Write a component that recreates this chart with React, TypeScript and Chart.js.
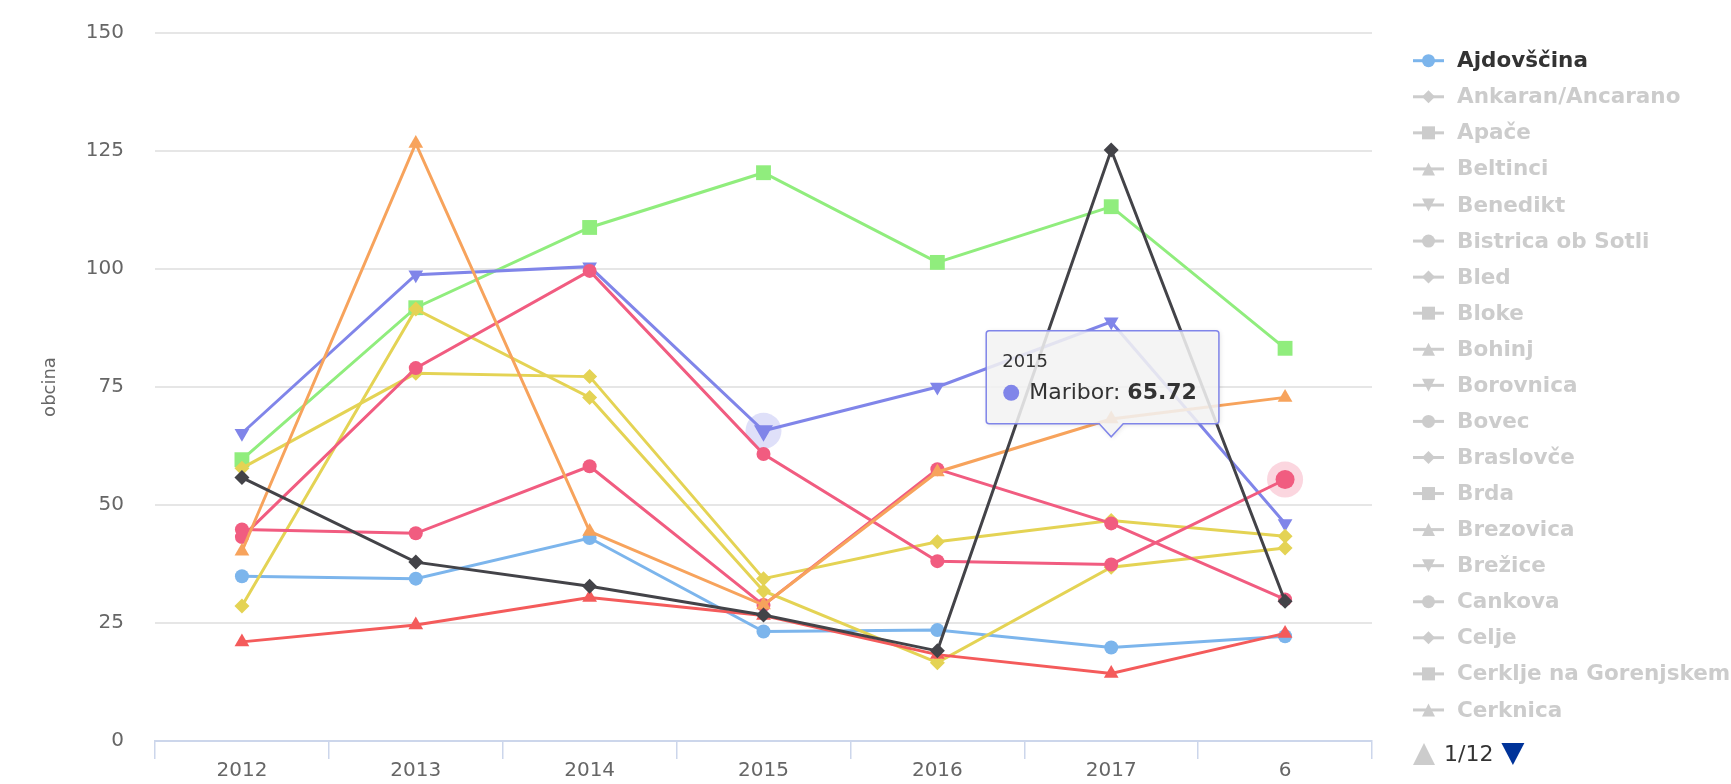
import React, { useEffect, useRef } from "react";
import { Chart, registerables } from "chart.js";

Chart.register(...registerables);

const FONT = "'DejaVu Sans', 'Noto Sans', sans-serif";

// ---- data ----
const categories = ["2012", "2013", "2014", "2015", "2016", "2017", "6"];
const yMin = 0;
const yMax = 150;
const yStep = 25;

const ajdovscina = [34.9, 34.4, 43.0, 23.2, 23.5, 19.8, 22.2];
const maribor = [65.2, 98.8, 100.5, 65.72, 75.0, 88.8, 46.1];
const seriesBlack = [55.8, 37.9, 32.8, 26.7, 19.1, 125.2, 29.6];
const seriesGreen = [59.6, 91.8, 108.8, 120.4, 101.4, 113.2, 83.2];
const seriesOrange = [40.2, 126.6, 44.4, 28.8, 57.0, 68.2, 72.8];
const seriesPinkA = [43.2, 79.0, 99.6, 60.8, 38.1, 37.4, 55.4];
const seriesPinkB = [44.8, 44.0, 58.2, 28.8, 57.6, 46.1, 30.0];
const seriesYellowA = [57.8, 77.9, 77.2, 34.4, 42.2, 46.7, 43.4];
const seriesYellowB = [28.6, 91.5, 72.8, 31.8, 16.6, 36.8, 40.9];
const seriesRed = [21.0, 24.6, 30.4, 26.6, 18.3, 14.3, 22.8];

const legendNames = [
  "Ajdovščina",
  "Ankaran/Ancarano",
  "Apače",
  "Beltinci",
  "Benedikt",
  "Bistrica ob Sotli",
  "Bled",
  "Bloke",
  "Bohinj",
  "Borovnica",
  "Bovec",
  "Braslovče",
  "Brda",
  "Brezovica",
  "Brežice",
  "Cankova",
  "Celje",
  "Cerklje na Gorenjskem",
  "Cerknica",
];
const legendVisible = [true];
const legendPage = "1/12";

const tooltipSeriesName = "Maribor";
const tooltipIndex = 3;

// ---- styles ----
const COLORS = {
  blue: "#7cb5ec",
  black: "#434348",
  green: "#90ed7d",
  orange: "#f7a35c",
  purple: "#8085e9",
  pink: "#f15c80",
  yellow: "#e4d354",
  red: "#f45b5b",
};
const SYMBOLS = ["circle", "diamond", "square", "triangle", "triangle-down"];

type Sym = "circle" | "diamond" | "square" | "triangle" | "triangle-down";

function styleFor(sym: Sym) {
  switch (sym) {
    case "circle":
      return { pointStyle: "circle", radius: 7, rotation: 0 };
    case "diamond":
      return { pointStyle: "rectRot", radius: 7.5, rotation: 0 };
    case "square":
      return { pointStyle: "rect", radius: 10.5, rotation: 0 };
    case "triangle":
      return { pointStyle: "triangle", radius: 8.5, rotation: 0 };
    default:
      return { pointStyle: "triangle", radius: 8.5, rotation: 180 };
  }
}

function lineDs(label: string, data: number[], color: string, sym: Sym, hoverIdx = -1) {
  const s = styleFor(sym);
  return {
    label,
    data,
    borderColor: color,
    backgroundColor: color,
    borderWidth: 3,
    pointStyle: s.pointStyle,
    pointRadius: (c: any) => (c.dataIndex === hoverIdx ? s.radius + 2.5 : s.radius),
    pointRotation: s.rotation,
    pointBackgroundColor: color,
    pointBorderColor: color,
    pointBorderWidth: 0,
    tension: 0,
    clip: false as any,
  };
}

function drawSymbol(ctx: CanvasRenderingContext2D, sym: string, x: number, y: number, color: string) {
  ctx.fillStyle = color;
  ctx.beginPath();
  if (sym === "circle") {
    ctx.arc(x, y, 6.5, 0, Math.PI * 2);
  } else if (sym === "diamond") {
    ctx.moveTo(x, y - 6.5);
    ctx.lineTo(x + 6.5, y);
    ctx.lineTo(x, y + 6.5);
    ctx.lineTo(x - 6.5, y);
  } else if (sym === "square") {
    ctx.rect(x - 6.5, y - 6.5, 13, 13);
  } else if (sym === "triangle") {
    ctx.moveTo(x, y - 6.5);
    ctx.lineTo(x + 6.5, y + 6.5);
    ctx.lineTo(x - 6.5, y + 6.5);
  } else {
    ctx.moveTo(x - 6.5, y - 6.5);
    ctx.lineTo(x + 6.5, y - 6.5);
    ctx.lineTo(x, y + 6.5);
  }
  ctx.closePath();
  ctx.fill();
}

const legendPlugin = {
  id: "hcLegend",
  afterDraw(chart: any) {
    const ctx: CanvasRenderingContext2D = chart.ctx;
    const x0 = chart.chartArea.right + 41;
    const y0 = chart.chartArea.top + 27.7;
    const step = 36.07;
    ctx.save();
    legendNames.forEach((name, i) => {
      const y = y0 + i * step;
      const vis = !!legendVisible[i];
      const col = vis ? COLORS.blue : "#cccccc";
      ctx.strokeStyle = col;
      ctx.lineWidth = 3;
      ctx.beginPath();
      ctx.moveTo(x0, y);
      ctx.lineTo(x0 + 31, y);
      ctx.stroke();
      drawSymbol(ctx, SYMBOLS[i % 5], x0 + 15.5, y, col);
      ctx.fillStyle = vis ? "#333333" : "#cccccc";
      ctx.font = `bold 21.5px ${FONT}`;
      ctx.textBaseline = "middle";
      ctx.textAlign = "left";
      ctx.fillText(name, x0 + 44, y + 1);
    });
    // pagination
    const py = y0 + legendNames.length * step + 8;
    ctx.fillStyle = "#cccccc";
    ctx.beginPath();
    ctx.moveTo(x0, py + 11);
    ctx.lineTo(x0 + 22, py + 11);
    ctx.lineTo(x0 + 11, py - 11);
    ctx.closePath();
    ctx.fill();
    ctx.fillStyle = "#333333";
    ctx.font = `22px ${FONT}`;
    ctx.textBaseline = "middle";
    ctx.fillText(legendPage, x0 + 31, py + 1);
    const tw = ctx.measureText(legendPage).width;
    const dx = x0 + 31 + tw + 8;
    ctx.fillStyle = "#003399";
    ctx.beginPath();
    ctx.moveTo(dx, py - 11);
    ctx.lineTo(dx + 23, py - 11);
    ctx.lineTo(dx + 11.5, py + 11);
    ctx.closePath();
    ctx.fill();
    ctx.restore();
  },
};

const haloPlugin = {
  id: "hcHalo",
  beforeDatasetsDraw(chart: any) {
    const ctx: CanvasRenderingContext2D = chart.ctx;
    const halos = [
      { label: tooltipSeriesName, index: tooltipIndex, color: "rgba(128,133,233,0.25)" },
      { label: "Občina F", index: 6, color: "rgba(241,92,128,0.25)" },
    ];
    ctx.save();
    halos.forEach((h) => {
      const di = chart.data.datasets.findIndex((d: any) => d.label === h.label);
      if (di < 0) return;
      const el = chart.getDatasetMeta(di).data[h.index];
      if (!el) return;
      ctx.fillStyle = h.color;
      ctx.beginPath();
      ctx.arc(el.x, el.y, 18, 0, Math.PI * 2);
      ctx.fill();
    });
    ctx.restore();
  },
};

const tooltipPlugin = {
  id: "hcTooltip",
  afterDraw(chart: any) {
    const ctx: CanvasRenderingContext2D = chart.ctx;
    const xs = chart.scales.x;
    const ys = chart.scales.y;
    const value = maribor[tooltipIndex];
    // anchor left over from the previous hover position (2017 column)
    const tipX = xs.getPixelForValue(5);
    const tipY = ys.getPixelForValue(value) + 6;
    const header = categories[tooltipIndex];
    const name = tooltipSeriesName + ": ";
    const val = value.toFixed(2);
    ctx.save();
    ctx.font = `22px ${FONT}`;
    const wName = ctx.measureText(name).width;
    ctx.font = `bold 22px ${FONT}`;
    const wVal = ctx.measureText(val).width;
    const left = tipX - 125;
    const w = 43 + wName + wVal + 22;
    const right = left + w;
    const top = tipY - 106;
    const bottom = tipY - 13;
    const r = 3;
    ctx.beginPath();
    ctx.moveTo(left + r, top);
    ctx.lineTo(right - r, top);
    ctx.quadraticCurveTo(right, top, right, top + r);
    ctx.lineTo(right, bottom - r);
    ctx.quadraticCurveTo(right, bottom, right - r, bottom);
    ctx.lineTo(tipX + 12, bottom);
    ctx.lineTo(tipX, tipY);
    ctx.lineTo(tipX - 12, bottom);
    ctx.lineTo(left + r, bottom);
    ctx.quadraticCurveTo(left, bottom, left, bottom - r);
    ctx.lineTo(left, top + r);
    ctx.quadraticCurveTo(left, top, left + r, top);
    ctx.closePath();
    ctx.shadowColor = "rgba(0,0,0,0.15)";
    ctx.shadowBlur = 5;
    ctx.shadowOffsetX = 1;
    ctx.shadowOffsetY = 1;
    ctx.fillStyle = "rgba(247,247,247,0.85)";
    ctx.fill();
    ctx.shadowColor = "transparent";
    ctx.strokeStyle = COLORS.purple;
    ctx.lineWidth = 1.5;
    ctx.stroke();

    ctx.fillStyle = "#333333";
    ctx.textBaseline = "middle";
    ctx.textAlign = "left";
    ctx.font = `18px ${FONT}`;
    ctx.fillText(header, left + 16, top + 32);
    ctx.fillStyle = COLORS.purple;
    ctx.beginPath();
    ctx.arc(left + 25, top + 62, 8, 0, Math.PI * 2);
    ctx.fill();
    ctx.fillStyle = "#333333";
    ctx.font = `22px ${FONT}`;
    ctx.fillText(name, left + 43, top + 62);
    ctx.font = `bold 22px ${FONT}`;
    ctx.fillText(val, left + 43 + wName, top + 62);
    ctx.restore();
  },
};

export default function App() {
  const ref = useRef<HTMLCanvasElement | null>(null);

  useEffect(() => {
    if (!ref.current) return;
    const datasets = [
      lineDs("Občina A", seriesBlack, COLORS.black, "diamond"),
      lineDs("Občina B", seriesRed, COLORS.red, "triangle"),
      lineDs("Občina C", seriesOrange, COLORS.orange, "triangle"),
      lineDs("Občina F", seriesPinkA, COLORS.pink, "circle", 6),
      lineDs("Občina G", seriesPinkB, COLORS.pink, "circle"),
      lineDs("Občina H", seriesYellowA, COLORS.yellow, "diamond"),
      lineDs("Občina I", seriesYellowB, COLORS.yellow, "diamond"),
      lineDs(tooltipSeriesName, maribor, COLORS.purple, "triangle-down", tooltipIndex),
      lineDs("Občina J", seriesGreen, COLORS.green, "square"),
      lineDs("Ajdovščina", ajdovscina, COLORS.blue, "circle"),
    ];
    const chart = new Chart(ref.current, {
      type: "line",
      data: { labels: categories, datasets: datasets as any },
      options: {
        responsive: false,
        animation: false,
        devicePixelRatio: 1,
        events: [],
        layout: { padding: { left: 36, right: 359, top: 33, bottom: 0 } },
        plugins: {
          legend: { display: false },
          tooltip: { enabled: false },
        },
        scales: {
          x: {
            type: "category",
            offset: true,
            grid: {
              display: true,
              drawOnChartArea: false,
              drawTicks: true,
              tickLength: 18,
              color: "#ccd6eb",
              tickColor: "#ccd6eb",
              lineWidth: 1.5,
              offset: true,
            },
            border: { display: true, color: "#ccd6eb", width: 2 },
            ticks: {
              color: "#666666",
              font: { family: FONT, size: 20 },
              padding: 0,
              maxRotation: 0,
              autoSkip: false,
            },
            afterFit: (s: any) => {
              s.height = 43;
            },
          },
          y: {
            min: yMin,
            max: yMax,
            ticks: {
              stepSize: yStep,
              color: "#666666",
              font: { family: FONT, size: 20 },
              padding: 0,
            },
            grid: {
              color: "#e6e6e6",
              lineWidth: 2,
              drawTicks: true,
              tickLength: 31,
              tickColor: "rgba(0,0,0,0)",
            },
            border: { display: false },
            title: {
              display: true,
              text: "obcina",
              color: "#666666",
              font: { family: FONT, size: 18 },
              padding: { top: 4, bottom: 4 },
            },
            afterFit: (s: any) => {
              s.width = 119;
            },
          },
        },
      } as any,
      plugins: [haloPlugin, legendPlugin, tooltipPlugin],
    });
    return () => chart.destroy();
  }, []);

  return (
    <div style={{ position: "fixed", left: 0, top: 0, width: 1731, height: 784, background: "#ffffff" }}>
      <canvas ref={ref} width={1731} height={784} style={{ display: "block" }} />
    </div>
  );
}
